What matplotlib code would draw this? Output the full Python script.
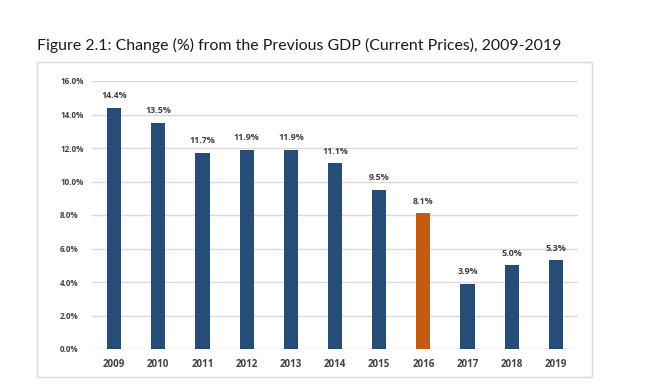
import matplotlib
matplotlib.use("Agg")
import matplotlib.pyplot as plt
from matplotlib.patches import Rectangle

years = ["2009", "2010", "2011", "2012", "2013", "2014", "2015", "2016", "2017", "2018", "2019"]
values = [14.4, 13.5, 11.7, 11.9, 11.9, 11.1, 9.5, 8.1, 3.9, 5.0, 5.3]
highlight = "2016"
yticks = [0, 2, 4, 6, 8, 10, 12, 14, 16]

plt.rcParams['font.family'] = ['Open Sans', 'DejaVu Sans']

W, H = 667, 392
fig = plt.figure(figsize=(W / 100, H / 100), dpi=100)
fig.patch.set_facecolor("white")

# outer chart box
fig.patches.append(Rectangle((37 / W, 1 - 377 / H), (592 - 37) / W, (377 - 62) / H,
                             transform=fig.transFigure, fill=False,
                             edgecolor="#D9D9D9", linewidth=1.0))

fig.text(37 / W, 1 - 45 / H, "Figure 2.1: Change (%) from the Previous GDP (Current Prices), 2009-2019",
         fontsize=11.4, color="#1a1a1a", va="center", ha="left", family=['Lato', 'DejaVu Sans'])

ax = fig.add_axes([92 / W, 1 - 349 / H, (578 - 92) / W, (349 - 81) / H])
x = list(range(len(years)))
colors = ["#C55A11" if y == highlight else "#264D78" for y in years]
bars = ax.bar(x, values, width=0.32, color=colors, zorder=3)
for xi, v in zip(x, values):
    ax.text(xi, v + 0.45, f"{v:.1f}%", ha="center", va="bottom", fontsize=6.4,
            fontweight="bold", color="#404040")

ax.set_xlim(-0.5, len(years) - 0.5)
ax.set_ylim(0, 16)
ax.set_yticks(yticks)
ax.set_yticklabels([f"{t:.1f}%" for t in yticks], fontsize=5.8, fontweight="bold", color="#404040")
ax.set_xticks(x)
ax.set_xticklabels(years, fontsize=7, fontweight="bold", color="#404040")
ax.tick_params(axis="both", length=0)
ax.tick_params(axis="y", pad=23)
ax.tick_params(axis="x", pad=7)
for lbl in ax.get_yticklabels():
    lbl.set_horizontalalignment("left")
ax.grid(axis="y", color="#D9D9D9", linewidth=1.0, zorder=0)
for s in ax.spines.values():
    s.set_visible(False)

fig.savefig("out.png", dpi=100)
